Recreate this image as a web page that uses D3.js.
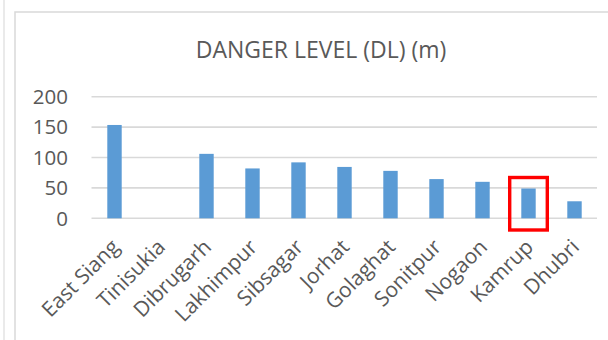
<!DOCTYPE html>
<html>
<head>
<meta charset="utf-8">
<script src="https://cdn.jsdelivr.net/npm/d3@7"></script>
<style>
  html, body { margin: 0; padding: 0; background: #fff; }
  svg { display: block; font-family: "Open Sans", sans-serif; }
</style>
</head>
<body>
<svg id="chart" width="608" height="340"></svg>
<script>
// District danger levels (m)
const districts = ["East Siang", "Tinisukia", "Dibrugarh", "Lakhimpur", "Sibsagar",
  "Jorhat", "Golaghat", "Sonitpur", "Nogaon", "Kamrup", "Dhubri"];
const dangerLevel = [153.5, 0, 106, 82, 92, 84.5, 78, 64.5, 60, 49, 28];
const yTicks = [0, 50, 100, 150, 200];
const chartTitle = "DANGER LEVEL (DL) (m)";
const highlighted = "Kamrup";

const svg = d3.select("#chart");
const textColor = "#595959";
const gridColor = "#d9d9d9";

// frame lines
svg.append("line").attr("x1", 4).attr("x2", 4).attr("y1", 0).attr("y2", 340)
  .attr("stroke", "#e3e3e3").attr("stroke-width", 1.5);
svg.append("rect").attr("x", 15).attr("y", 12).attr("width", 700).attr("height", 400)
  .attr("fill", "none").attr("stroke", gridColor).attr("stroke-width", 1.5);

const x = d3.scaleBand().domain(districts).range([91.5, 597.5])
  .paddingInner(0.687).paddingOuter(0.3435);
const y = d3.scaleLinear().domain([0, 200]).range([218.3, 96.7]);

// title
svg.append("text").attr("x", 321).attr("y", 57.5).attr("text-anchor", "middle")
  .attr("fill", textColor).attr("font-size", 23).text(chartTitle);

// gridlines
svg.append("g").selectAll("line").data(yTicks).join("line")
  .attr("x1", 91.5).attr("x2", 597).attr("y1", d => y(d)).attr("y2", d => y(d))
  .attr("stroke", gridColor).attr("stroke-width", 1.6);

// y tick labels
svg.append("g").selectAll("text").data(yTicks).join("text")
  .attr("x", 68).attr("y", d => y(d)).attr("dy", "0.36em")
  .attr("text-anchor", "end").attr("fill", textColor).attr("font-size", 20.5)
  .text(d => d);

// bars
svg.append("g").selectAll("rect").data(districts).join("rect")
  .attr("x", d => x(d)).attr("width", x.bandwidth())
  .attr("y", (d, i) => y(dangerLevel[i]))
  .attr("height", (d, i) => y(0) - y(dangerLevel[i]))
  .attr("fill", "#5b9bd5");

// category labels, rotated
svg.append("g").selectAll("text").data(districts).join("text")
  .attr("transform", d => `translate(${x(d) + x.bandwidth() / 2 + 6},${y(0) + 30}) rotate(-45)`)
  .attr("text-anchor", "end").attr("fill", textColor).attr("font-size", 21)
  .text(d => d);

// highlight box around the selected district
const hi = districts.indexOf(highlighted);
const cx = x(highlighted) + x.bandwidth() / 2;
svg.append("rect")
  .attr("x", cx - 18.8).attr("width", 37.6)
  .attr("y", y(dangerLevel[hi]) - 11).attr("height", y(0) + 11.7 - (y(dangerLevel[hi]) - 11))
  .attr("fill", "none").attr("stroke", "#ff0000").attr("stroke-width", 3.4);
</script>
</body>
</html>
